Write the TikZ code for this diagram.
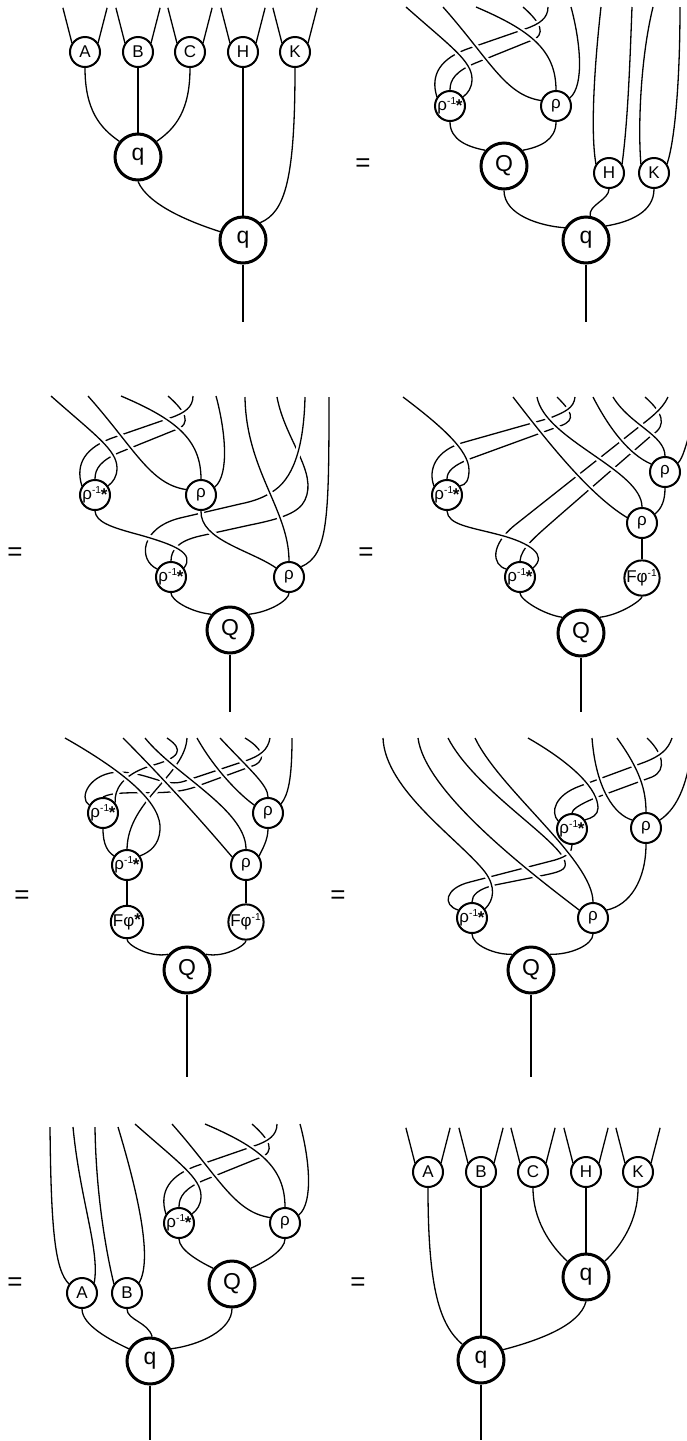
\documentclass[tikz,border=0pt]{standalone}
\usepackage{fontspec}
\setmainfont{Liberation Sans}
\usepackage{tikz}
\usetikzlibrary{backgrounds}

\newcommand{\rhoinv}{ρ\textsuperscript{\scalebox{0.85}{-1}}\kern-0.6pt\raisebox{-0.4pt}{\textbf{*}}}

\begin{document}
\begin{tikzpicture}[x=0.5pt, y=-0.5pt]
    \tikzstyle{strand} = [line width=0.65pt]
    \tikzstyle{overstrand} = [strand, preaction={draw=white, line width=3pt}]
    \tikzstyle{gate} = [circle, draw, line width=1pt, fill=white, minimum size=15pt, inner sep=0pt, font=\fontsize{8.5}{9}\selectfont]
    \tikzstyle{hub} = [circle, draw, line width=1.5pt, fill=white, minimum size=23pt, inner sep=0pt, font=\fontsize{11.5}{12}\selectfont]
    \tikzstyle{equals} = [font=\fontsize{13}{13}\selectfont]
    \useasboundingbox (0,0) rectangle (686,1441);

    % the rho^{-1*} / rho pair that comes back in three of the pictures
    \foreach \m/\x/\y in {b/450/106, c/95/495, g/179/1223} {
        \begin{scope}[shift={(\x,\y)}]
            \node[gate] (\m p) at (0,0) {\rhoinv};
            \node[gate] (\m r) at (106,0) {ρ};
            \begin{scope}[on background layer]
                \draw[strand] (73,-99) .. controls (90,-84) and (98,-71) .. (80,-65) -- (28,-44) .. controls (5,-35) and (0,-26) .. (\m p.north);
                \draw[overstrand] (98,-99) .. controls (98,-88) and (90,-82) .. (75,-77) -- (20,-58) .. controls (-10,-48) and (-20,-31) .. (\m p.145);
                \draw[overstrand] (-44,-99) .. controls (0,-60) and (22,-45) .. (22,-27) .. controls (22,-18) and (18,-13) .. (\m p.35);
                \draw[overstrand] (-7,-99) .. controls (40,-46) and (55,-11) .. (\m r.160);
                \draw[overstrand] (26,-99) .. controls (80,-76) and (106,-56) .. (\m r.north);
                \draw[strand] (121,-99) .. controls (130,-66) and (135,-21) .. (\m r.30);
            \end{scope}
        \end{scope}
    }

    % first picture
    \foreach \n/\x in {A/85, B/138, C/190, H/243, K/295}
        \node[gate] (\n1) at (\x,52) {\n};
    \node[hub] (q1a) at (138,157) {q};
    \node[hub] (q1b) at (243,240) {q};
    \coordinate (o1) at (243,322);
    \begin{scope}[on background layer]
        \foreach \n in {A1, B1, C1, H1, K1} {
            \draw[strand] (\n.145) -- ++(-9,-35);
            \draw[strand] (\n.35) -- ++(9,-35);
        }
        \draw[strand] (A1.south) .. controls (85,110) and (100,128) .. (q1a.140);
        \draw[strand] (B1) -- (q1a);
        \draw[strand] (C1.south) .. controls (190,110) and (176,128) .. (q1a.40);
        \draw[strand] (q1a.south) .. controls (148,205) and (190,222) .. (q1b.160);
        \draw[strand] (H1) -- (q1b);
        \draw[strand] (K1.south) .. controls (295,180) and (285,212) .. (q1b.45);
        \draw[strand] (q1b) -- (o1);
    \end{scope}

    % second picture
    \node[equals] (eq2) at (363,165) {=};
    \node[hub] (Q2) at (504,166) {Q};
    \node[gate] (H2) at (609,173) {H};
    \node[gate] (K2) at (654,173) {K};
    \node[hub] (q2) at (586,240) {q};
    \coordinate (o2) at (586,322);
    \begin{scope}[on background layer]
        \draw[strand] (601,7) .. controls (595,60) and (590,130) .. (H2.145);
        \draw[strand] (632,7) .. controls (630,60) and (628,120) .. (H2.35);
        \draw[strand] (653,7) .. controls (640,60) and (638,130) .. (K2.145);
        \draw[strand] (680,7) .. controls (680,80) and (675,140) .. (K2.35);
        \draw[strand] (bp.south) .. controls (450,140) and (468,147) .. (Q2.140);
        \draw[strand] (br.south) .. controls (556,140) and (540,147) .. (Q2.40);
        \draw[strand] (Q2.south) .. controls (504,215) and (540,226) .. (q2.150);
        \draw[strand] (H2.south) .. controls (609,200) and (588,205) .. (q2.80);
        \draw[strand] (K2.south) .. controls (654,212) and (630,222) .. (q2.35);
        \draw[strand] (q2) -- (o2);
    \end{scope}

    % third picture
    \node[equals] (eq3) at (15,554) {=};
    \node[gate] (cP2) at (171,577) {\rhoinv};
    \node[gate] (cR2) at (289,577) {ρ};
    \node[hub] (Q3) at (230,630) {Q};
    \coordinate (o3) at (230,712);
    \begin{scope}[on background layer]
        \draw[strand] (277,397) .. controls (285,440) and (318,472) .. (305,500) .. controls (299,513) and (280,519) .. (250,525) -- (200,536) .. controls (178,541) and (171,550) .. (cP2.north);
        \draw[overstrand] (305,397) .. controls (304,440) and (296,475) .. (275,490) .. controls (265,497) and (255,501) .. (240,504) -- (180,518) .. controls (140,528) and (138,560) .. (cP2.150);
        \draw[overstrand] (245,397) .. controls (246,470) and (289,510) .. (cR2.north);
        \draw[overstrand] (cr.south) .. controls (200,540) and (250,550) .. (cR2.145);
        \draw[strand] (329,397) .. controls (329,520) and (328,555) .. (cR2.40);
        \draw[overstrand] (cp.south) .. controls (96,522) and (110,527) .. (140,535) .. controls (175,545) and (195,553) .. (cP2.35);
        \draw[strand] (cP2.south) .. controls (171,600) and (190,612) .. (Q3.140);
        \draw[strand] (cR2.south) .. controls (289,600) and (270,612) .. (Q3.40);
        \draw[strand] (Q3) -- (o3);
    \end{scope}

    % fourth picture
    \node[equals] (eq4) at (366,554) {=};
    \node[gate] (dp) at (447,495) {\rhoinv};
    \node[gate] (dRt) at (665,472) {ρ};
    \node[gate] (dRm) at (642,523) {ρ};
    \node[gate] (dP2) at (520,577) {\rhoinv};
    \node[gate] (dF) at (642,578) {Fφ\textsuperscript{\scalebox{0.85}{-1}}};
    \node[hub] (Q4) at (581,633) {Q};
    \coordinate (o4) at (581,712);
    \begin{scope}[on background layer]
        \draw[strand] (557,397) .. controls (570,410) and (578,420) .. (560,426) -- (475,457) .. controls (452,465) and (447,472) .. (dp.north);
        \draw[overstrand] (575,397) .. controls (574,408) and (565,412) .. (550,418) -- (465,442) .. controls (435,450) and (428,470) .. (dp.145);
        \draw[strand] (645,397) .. controls (662,412) and (668,425) .. (652,435) -- (560,515) .. controls (535,537) and (521,548) .. (dP2.north);
        \draw[overstrand] (668,397) .. controls (662,410) and (650,418) .. (635,430) -- (515,525) .. controls (490,545) and (492,565) .. (dP2.150);
        \draw[overstrand] (403,397) .. controls (440,425) and (469,450) .. (469,470) .. controls (469,480) and (466,485) .. (dp.35);
        \draw[overstrand] (513,397) .. controls (550,445) and (590,495) .. (dRm.160);
        \draw[overstrand] (537,397) .. controls (545,440) and (642,470) .. (dRm.north);
        \draw[overstrand] (593,397) .. controls (610,430) and (630,455) .. (dRt.150);
        \draw[overstrand] (613,397) .. controls (630,425) and (665,435) .. (dRt.north);
        \draw[strand] (692,425) .. controls (686,445) and (683,458) .. (dRt.35);
        \draw[strand] (dRt.south) .. controls (665,500) and (662,508) .. (dRm.35);
        \draw[overstrand] (dp.south) .. controls (448,525) and (470,527) .. (500,535) .. controls (530,543) and (548,555) .. (dP2.35);
        \draw[strand] (dRm) -- (dF);
        \draw[strand] (dP2.south) .. controls (520,600) and (545,615) .. (Q4.140);
        \draw[strand] (dF.south) .. controls (642,600) and (620,615) .. (Q4.40);
        \draw[strand] (Q4) -- (o4);
    \end{scope}

    % fifth picture
    \node[equals] (eq5) at (22,897) {=};
    \node[gate] (ep) at (103,813) {\rhoinv};
    \node[gate] (eP2) at (127,865) {\rhoinv};
    \node[gate] (eFs) at (127,922) {Fφ\raisebox{0.6pt}{\textbf{*}}};
    \node[gate] (eRt) at (268,813) {ρ};
    \node[gate] (eRm) at (246,865) {ρ};
    \node[gate] (eFi) at (246,922) {Fφ\textsuperscript{\scalebox{0.85}{-1}}};
    \node[hub] (Q5) at (187,970) {Q};
    \coordinate (o5) at (187,1077);
    \begin{scope}[on background layer]
        \draw[strand] (245,738) .. controls (260,747) and (268,758) .. (255,765) -- (195,787) .. controls (165,798) and (120,788) .. (ep.north);
        \draw[overstrand] (270,738) .. controls (268,750) and (260,756) .. (245,761) -- (185,781) .. controls (165,788) and (150,773) .. (120,772) .. controls (90,772) and (78,798) .. (ep.150);
        \draw[overstrand] (167,738) .. controls (185,750) and (180,758) .. (150,766) .. controls (122,775) and (114,790) .. (ep.40);
        \draw[overstrand] (187,738) .. controls (185,775) and (128,800) .. (eP2.north);
        \draw[overstrand] (65,738) .. controls (130,775) and (162,805) .. (160,830) .. controls (159,845) and (150,852) .. (eP2.35);
        \draw[overstrand] (123,738) .. controls (165,780) and (205,825) .. (eRm.150);
        \draw[overstrand] (145,738) .. controls (175,775) and (246,810) .. (eRm.north);
        \draw[overstrand] (197,738) .. controls (215,770) and (240,795) .. (eRt.150);
        \draw[overstrand] (220,738) .. controls (250,770) and (268,785) .. (eRt.north);
        \draw[strand] (292,738) .. controls (292,780) and (288,795) .. (eRt.35);
        \draw[strand] (eRt.south) .. controls (268,840) and (262,850) .. (eRm.35);
        \draw[strand] (ep.south) .. controls (103,845) and (108,852) .. (eP2.145);
        \draw[strand] (eP2) -- (eFs);
        \draw[strand] (eRm) -- (eFi);
        \draw[strand] (eFs.south) .. controls (127,945) and (150,958) .. (Q5.140);
        \draw[strand] (eFi.south) .. controls (246,945) and (225,958) .. (Q5.40);
        \draw[strand] (Q5) -- (o5);
    \end{scope}

    % sixth picture
    \node[equals] (eq6) at (338,897) {=};
    \node[gate] (fp) at (572,829) {\rhoinv};
    \node[gate] (fr) at (646,828) {ρ};
    \node[gate] (fP2) at (472,918) {\rhoinv};
    \node[gate] (fR2) at (593,918) {ρ};
    \node[hub] (Q6) at (531,970) {Q};
    \coordinate (o6) at (531,1077);
    \begin{scope}[on background layer]
        \draw[strand] (647,738) .. controls (662,752) and (668,770) .. (652,777) -- (595,798) .. controls (578,805) and (572,810) .. (fp.north);
        \draw[overstrand] (672,738) .. controls (668,750) and (660,756) .. (645,762) -- (580,786) .. controls (555,795) and (550,812) .. (fp.150);
        \draw[strand] (448,738) .. controls (475,790) and (560,840) .. (565,862) .. controls (567,870) and (560,872) .. (540,876) -- (495,885) .. controls (478,889) and (472,895) .. (fP2.north);
        \draw[overstrand] (fp.south) .. controls (572,852) and (568,856) .. (555,860) -- (470,882) .. controls (445,888) and (442,905) .. (fP2.150);
        \draw[overstrand] (383,738) .. controls (385,790) and (460,840) .. (485,872) .. controls (496,887) and (494,900) .. (fP2.35);
        \draw[overstrand] (418,738) .. controls (425,790) and (520,865) .. (fR2.150);
        \draw[overstrand] (475,738) .. controls (500,790) and (593,860) .. (fR2.north);
        \draw[overstrand] (528,738) .. controls (575,765) and (598,790) .. (598,808) .. controls (598,815) and (592,818) .. (fp.35);
        \draw[overstrand] (592,738) .. controls (596,790) and (615,815) .. (fr.150);
        \draw[overstrand] (617,738) .. controls (640,770) and (646,790) .. (fr.north);
        \draw[strand] (690,760) .. controls (685,790) and (675,810) .. (fr.30);
        \draw[strand] (fr.south) .. controls (646,880) and (630,905) .. (fR2.30);
        \draw[strand] (fP2.south) .. controls (472,945) and (495,955) .. (Q6.140);
        \draw[strand] (fR2.south) .. controls (593,945) and (570,955) .. (Q6.40);
        \draw[strand] (Q6) -- (o6);
    \end{scope}

    % seventh picture
    \node[equals] (eq7) at (15,1284) {=};
    \node[hub] (Q7) at (232,1284) {Q};
    \node[gate] (A7) at (82,1293) {A};
    \node[gate] (B7) at (127,1293) {B};
    \node[hub] (q7) at (150,1361) {q};
    \coordinate (o7) at (150,1440);
    \begin{scope}[on background layer]
        \draw[strand] (50,1127) .. controls (51,1230) and (55,1270) .. (A7.145);
        \draw[strand] (73,1127) .. controls (80,1200) and (100,1250) .. (A7.40);
        \draw[strand] (95,1127) .. controls (96,1200) and (108,1260) .. (B7.145);
        \draw[strand] (118,1127) .. controls (140,1200) and (152,1260) .. (B7.40);
        \draw[strand] (gp.south) .. controls (179,1250) and (200,1262) .. (Q7.140);
        \draw[strand] (gr.south) .. controls (285,1250) and (265,1262) .. (Q7.40);
        \draw[strand] (A7.south) .. controls (82,1325) and (110,1340) .. (q7.150);
        \draw[strand] (B7.south) .. controls (127,1320) and (148,1322) .. (q7.85);
        \draw[strand] (Q7.south) .. controls (232,1330) and (200,1345) .. (q7.30);
        \draw[strand] (q7) -- (o7);
    \end{scope}

    % eighth picture
    \node[equals] (eq8) at (358,1284) {=};
    \foreach \n/\x in {A/428, B/481, C/533, H/586, K/638}
        \node[gate] (\n8) at (\x,1172) {\n};
    \node[hub] (q8a) at (586,1277) {q};
    \node[hub] (q8b) at (481,1360) {q};
    \coordinate (o8) at (481,1440);
    \begin{scope}[on background layer]
        \foreach \n in {A8, B8, C8, H8, K8} {
            \draw[strand] (\n.145) -- ++(-9,-35);
            \draw[strand] (\n.35) -- ++(9,-35);
        }
        \draw[strand] (A8.south) .. controls (428,1290) and (440,1325) .. (q8b.140);
        \draw[strand] (B8) -- (q8b);
        \draw[strand] (C8.south) .. controls (533,1220) and (550,1245) .. (q8a.140);
        \draw[strand] (H8) -- (q8a);
        \draw[strand] (K8.south) .. controls (638,1220) and (622,1245) .. (q8a.40);
        \draw[strand] (q8a.south) .. controls (580,1325) and (540,1340) .. (q8b.25);
        \draw[strand] (q8b) -- (o8);
    \end{scope}
\end{tikzpicture}
\end{document}
